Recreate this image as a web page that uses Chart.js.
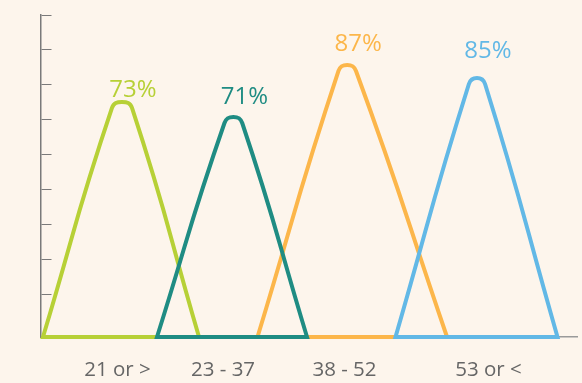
<!DOCTYPE html>
<html>
<head>
<meta charset="utf-8">
<script src="https://cdn.jsdelivr.net/npm/chart.js@4.4.1/dist/chart.umd.min.js"></script>
<style>
  html, body { margin: 0; padding: 0; background: #fdf5ec; }
  #wrap { width: 582px; height: 383px; }
</style>
</head>
<body>
<div id="wrap"><canvas id="c" width="582" height="383"></canvas></div>
<script>
// ---- data ----
const categories = ['21 or >', '23 - 37', '38 - 52', '53 or <'];
const categoryTickX = [14.27, 33.96, 56.62, 83.49];
const percentValues = [73, 71, 87, 85];
const percentLabels = ['73%', '71%', '87%', '85%'];
const yTickValues = [98, 87.35, 76.7, 66.05, 55.4, 44.75, 34.1, 23.45, 12.8];

// outline points of each peak, left to right:
// base-left, left shoulder, top, right shoulder, base-right
const greenX  = [0.37, 13.24, 15.11, 16.98, 29.48];
const greenY  = [0, 69.70, 71.52, 69.70, 0];
const tealX   = [21.64, 34.23, 35.89, 37.54, 49.63];
const tealY   = [0, 65.13, 66.96, 65.13, 0];
const orangeX = [40.39, 55.50, 57.13, 58.77, 75.75];
const orangeY = [0, 80.96, 82.78, 80.96, 0];
const blueX   = [66.14, 79.83, 81.34, 82.85, 96.36];
const blueY   = [0, 77.00, 78.83, 77.00, 0];

const colors = ['#b7d036', '#1f8c83', '#fcb64a', '#62b8e6'];

// closed outline starting mid-baseline; repeated base points keep those corners sharp
function outline(xs, ys) {
  const p = xs.map((x, i) => ({ x: x, y: ys[i] }));
  const n = p.length - 1;
  const mid = { x: (p[0].x + p[n].x) / 2, y: p[0].y };
  return [mid, p[0], p[0]].concat(p.slice(1, n), [p[n], p[n], mid]);
}

const seriesList = [
  { xs: greenX, ys: greenY, order: 4 },
  { xs: tealX, ys: tealY, order: 2 },
  { xs: orangeX, ys: orangeY, order: 3 },
  { xs: blueX, ys: blueY, order: 1 }
];

const datasets = seriesList.map((s, i) => ({
  label: categories[i],
  data: outline(s.xs, s.ys),
  borderColor: colors[i],
  borderWidth: 4,
  tension: 0.5,
  pointRadius: 0,
  fill: false,
  clip: false,
  order: s.order,
  borderJoinStyle: 'miter'
}));

const percentPlugin = {
  id: 'percentLabels',
  afterDatasetsDraw(chart) {
    const ctx = chart.ctx;
    const y = chart.scales.y;
    ctx.save();
    ctx.font = '24px "Open Sans"';
    ctx.textAlign = 'center';
    ctx.textBaseline = 'alphabetic';
    chart.data.datasets.forEach((ds, i) => {
      const top = chart.getDatasetMeta(i).data[4];
      ctx.fillStyle = colors[i];
      ctx.fillText(percentLabels[i], top.x + 11, y.getPixelForValue(percentValues[i]));
    });
    ctx.restore();
  }
};

new Chart(document.getElementById('c'), {
  type: 'line',
  data: { datasets: datasets },
  plugins: [percentPlugin],
  options: {
    responsive: false,
    animation: false,
    devicePixelRatio: 1,
    events: [],
    layout: { padding: { left: 41, right: 5, top: 15, bottom: 0 } },
    plugins: { legend: { display: false }, tooltip: { enabled: false } },
    scales: {
      x: {
        type: 'linear',
        min: 0,
        max: 100,
        afterBuildTicks: (s) => { s.ticks = categoryTickX.map(v => ({ value: v })); },
        afterFit: (s) => { s.height = 46; },
        ticks: {
          callback: (v, i) => categories[i],
          color: '#666666',
          font: { family: 'Open Sans', size: 20.5 },
          padding: 21,
          maxRotation: 0,
          autoSkip: false
        },
        grid: { display: false, drawTicks: false },
        border: { display: true, color: '#9a9a9a', width: 1.5 }
      },
      y: {
        type: 'linear',
        min: 0,
        max: 98,
        afterBuildTicks: (s) => { s.ticks = yTickValues.map(v => ({ value: v })); },
        ticks: { display: false },
        grid: { display: true, drawOnChartArea: true, drawTicks: false, color: '#7a7a7a', lineWidth: 1 },
        border: { display: true, color: '#7a7a7a', width: 1.5, dash: [10, 2000] }
      }
    }
  }
});
</script>
</body>
</html>
